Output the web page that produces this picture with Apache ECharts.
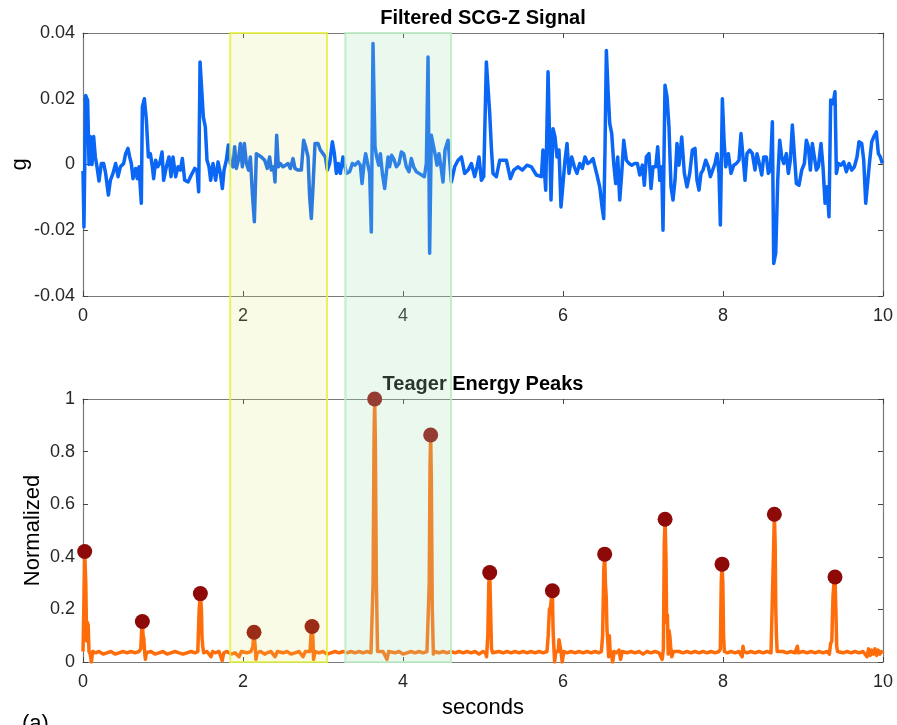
<!DOCTYPE html>
<html>
<head>
<meta charset="utf-8">
<script src="https://cdn.jsdelivr.net/npm/echarts@6/dist/echarts.min.js"></script>
<style>
html,body{margin:0;padding:0;background:#fff;}
#chart{width:897px;height:725px;}
</style>
</head>
<body>
<div id="chart"></div>
<script>
// ---------- DATA ----------
const topTitle = 'Filtered SCG-Z Signal';
const bottomTitle = 'Teager Energy Peaks';
const topYName = 'g';
const bottomYName = 'Normalized';
const xName = 'seconds';
const panelTag = '(a)';

const xRange = [0, 10];
const topYRange = [-0.04, 0.04];
const bottomYRange = [0, 1];

// highlighted windows (seconds)
const yellowSpan = [1.84, 3.05];
const greenSpan = [3.28, 4.6];

// filtered SCG-Z signal [seconds, g]
const scgSignal = [
[0.000,-0.002],[0.012,-0.019],[0.033,0.021],[0.058,0.0195],[0.075,0.0],[0.092,0.0085],[0.113,0.0],[0.133,0.0085],
[0.154,0.0023],[0.175,-0.0007],[0.200,-0.005],[0.229,0.0003],[0.258,0.0003],[0.283,-0.0027],[0.317,-0.0093],
[0.342,-0.0048],[0.375,-0.0027],[0.408,0.0003],[0.438,-0.0037],[0.467,-0.0007],[0.508,0.0003],[0.533,0.0033],
[0.562,0.0049],[0.583,0.0023],[0.604,0.0003],[0.625,-0.0043],[0.658,-0.0012],[0.679,-0.0043],[0.700,-0.0007],
[0.729,-0.0118],[0.742,0.0175],[0.767,0.020],[0.792,0.0135],[0.817,0.0023],[0.842,0.0033],[0.867,-0.0007],
[0.883,-0.0043],[0.908,0.0013],[0.933,-0.0007],[0.958,0.0003],[0.988,0.0038],[1.008,-0.0048],[1.042,-0.0007],
[1.075,0.0023],[1.100,-0.0037],[1.125,0.0023],[1.158,-0.0037],[1.188,-0.0007],[1.217,-0.0017],[1.242,0.0018],
[1.271,-0.0048],[1.313,-0.0053],[1.354,-0.0032],[1.396,-0.0012],[1.425,-0.0017],[1.446,-0.0083],[1.463,0.0312],
[1.483,0.0307],[1.504,0.0145],[1.529,0.0114],[1.550,0.0013],[1.575,-0.0007],[1.596,-0.0048],[1.625,0.0003],
[1.658,-0.0048],[1.688,0.0008],[1.717,-0.0027],[1.742,-0.0073],[1.763,-0.0017],[1.792,0.0013],[1.817,0.0059],
[1.842,0.0003],[1.875,-0.0007],[1.896,0.0054],[1.917,-0.0012],[1.942,0.0013],[1.967,0.0064],[1.992,-0.0007],
[2.017,0.0064],[2.042,0.0003],[2.071,-0.0017],[2.092,0.0023],[2.117,-0.0088],[2.142,-0.0174],[2.167,0.0033],
[2.192,0.0038],[2.229,0.0023],[2.271,0.0013],[2.304,-0.0012],[2.333,0.0023],[2.354,-0.0017],[2.383,-0.0007],
[2.400,-0.0053],[2.421,0.0089],[2.442,-0.0007],[2.467,0.0003],[2.500,-0.0007],[2.533,-0.0002],[2.563,0.0003],
[2.592,-0.0012],[2.625,0.0018],[2.650,-0.0012],[2.688,-0.0017],[2.729,-0.0017],[2.758,0.0074],[2.783,0.0054],
[2.813,0.0023],[2.833,-0.0098],[2.854,-0.0164],[2.875,-0.0068],[2.900,0.0064],[2.938,0.0064],[2.967,0.0044],
[3.000,0.0033],[3.029,0.0023],[3.054,-0.0017],[3.083,0.0003],[3.117,0.0069],[3.142,0.0033],[3.167,-0.0027],
[3.192,0.0003],[3.217,-0.0027],[3.250,0.0023],[3.292,-0.0027],[3.333,-0.0022],[3.367,0.0003],[3.400,-0.0002],
[3.438,0.0008],[3.467,-0.0002],[3.488,-0.0058],[3.513,0.0003],[3.533,0.0033],[3.558,0.0028],[3.583,-0.0027],
[3.604,-0.0205],[3.625,0.0368],[3.650,0.0054],[3.671,0.0023],[3.696,-0.0002],[3.717,0.0033],[3.742,-0.0027],
[3.771,-0.0073],[3.792,-0.0068],[3.813,0.0023],[3.833,-0.0007],[3.858,0.0028],[3.883,0.0018],[3.917,-0.0007],
[3.950,0.0003],[3.979,0.0038],[4.008,0.0033],[4.042,-0.0007],[4.075,-0.0022],[4.104,0.0018],[4.133,-0.0007],
[4.167,-0.0022],[4.200,-0.0027],[4.233,-0.0032],[4.267,-0.0037],[4.292,0.0003],[4.313,0.0327],[4.333,-0.027],
[4.354,0.0089],[4.375,0.0084],[4.400,0.0033],[4.425,-0.0002],[4.450,0.0033],[4.475,-0.0007],[4.500,-0.0053],
[4.525,0.0044],[4.563,0.0074],[4.605,-0.0053],[4.646,-0.0007],[4.688,0.0013],[4.730,0.0023],[4.771,-0.0027],
[4.813,-0.0017],[4.855,0.0003],[4.896,-0.0037],[4.925,-0.0007],[4.950,0.0023],[4.980,-0.0048],[5.009,-0.0037],
[5.042,0.0312],[5.063,0.0307],[5.084,0.0155],[5.105,0.0049],[5.125,-0.0027],[5.167,-0.0037],[5.209,0.0013],
[5.250,0.0013],[5.292,0.0013],[5.342,-0.0043],[5.384,-0.0017],[5.438,-0.0007],[5.492,-0.0017],[5.550,-0.0002],
[5.605,-0.0007],[5.667,-0.0032],[5.730,-0.0037],[5.750,0.0044],[5.784,-0.0078],[5.813,0.0282],[5.834,0.0277],
[5.850,-0.0108],[5.875,0.0109],[5.900,0.0084],[5.925,0.0023],[5.950,0.0044],[5.975,-0.0129],[6.000,-0.0134],
[6.025,0.0013],[6.050,0.0064],[6.075,-0.0027],[6.109,0.0023],[6.142,-0.0007],[6.175,-0.0027],[6.209,0.0003],
[6.242,-0.0012],[6.275,0.0023],[6.309,0.0003],[6.342,0.0008],[6.375,0.0018],[6.400,-0.0007],[6.425,-0.0032],
[6.459,-0.0068],[6.488,-0.0129],[6.509,-0.0164],[6.525,0.0044],[6.542,0.0347],[6.563,0.0226],[6.584,0.0125],
[6.609,0.0094],[6.634,0.0003],[6.659,-0.0058],[6.684,0.0023],[6.709,-0.0108],[6.734,-0.0027],[6.759,0.0074],
[6.792,0.0013],[6.825,0.0003],[6.859,-0.0002],[6.896,0.0003],[6.930,0.0003],[6.959,-0.0032],[6.992,-0.0002],
[7.017,-0.0063],[7.042,0.0023],[7.075,0.0033],[7.100,-0.0073],[7.125,-0.0007],[7.159,-0.0007],[7.184,0.0054],
[7.209,-0.0048],[7.234,-0.0007],[7.250,-0.020],[7.275,0.0241],[7.300,0.0206],[7.325,0.0114],[7.350,-0.0068],
[7.375,-0.0108],[7.400,-0.0048],[7.425,0.0064],[7.450,-0.0002],[7.484,0.0084],[7.517,-0.0027],[7.550,-0.0068],
[7.584,-0.0027],[7.617,0.0044],[7.650,0.0049],[7.675,-0.0048],[7.700,-0.0078],[7.725,-0.0027],[7.750,-0.0017],
[7.784,0.0013],[7.817,-0.0007],[7.842,-0.0037],[7.867,-0.0032],[7.900,0.0003],[7.925,0.0033],[7.950,-0.0027],
[7.967,-0.0184],[7.992,0.020],[8.013,0.0074],[8.034,-0.0007],[8.067,0.0033],[8.100,-0.0027],[8.134,-0.0002],
[8.167,0.0003],[8.200,0.0013],[8.225,0.0094],[8.250,0.0099],[8.275,-0.0048],[8.300,0.0033],[8.334,0.0044],
[8.367,0.0033],[8.400,-0.0017],[8.425,0.0033],[8.459,-0.0002],[8.484,-0.0032],[8.509,0.0023],[8.542,0.0023],
[8.567,-0.0027],[8.592,-0.0017],[8.617,0.013],[8.634,-0.0301],[8.659,-0.027],[8.684,-0.0048],[8.709,0.0074],
[8.734,0.0023],[8.759,0.0003],[8.792,0.0033],[8.817,-0.0027],[8.842,0.0013],[8.867,0.012],[8.892,0.0114],
[8.917,-0.0058],[8.950,-0.0063],[8.984,-0.0017],[9.017,0.0003],[9.042,0.0074],[9.067,0.0054],[9.092,-0.0017],
[9.117,0.0064],[9.142,0.0023],[9.167,-0.0017],[9.192,-0.0007],[9.225,0.0064],[9.250,-0.0007],[9.276,-0.0118],
[9.300,-0.0068],[9.325,-0.0159],[9.346,0.0196],[9.375,0.0185],[9.400,0.0221],[9.417,-0.0027],[9.442,0.0003],
[9.475,-0.0002],[9.509,0.0008],[9.542,-0.0022],[9.575,0.0003],[9.609,-0.0017],[9.642,-0.0007],[9.675,0.0023],
[9.700,0.0069],[9.734,0.0064],[9.759,0.0013],[9.784,-0.0118],[9.809,-0.0113],[9.834,0.0013],[9.859,0.0069],
[9.884,0.0084],[9.917,0.0099],[9.942,0.0033],[9.967,0.0023],[9.992,0.0003]
];

// Teager energy, normalized [seconds, value]
const teagerEnergy = [
[0.000,0.04],[0.010,0.2],[0.021,0.42],[0.035,0.3],[0.045,0.08],[0.055,0.15],[0.065,0.14],[0.075,0.04],[0.090,0.03],
[0.105,0.0],[0.120,0.04],[0.160,0.035],[0.200,0.04],[0.250,0.03],[0.300,0.035],[0.350,0.04],[0.400,0.03],[0.450,0.035],
[0.500,0.04],[0.550,0.035],[0.600,0.04],[0.650,0.035],[0.700,0.04],[0.722,0.05],[0.733,0.12],[0.742,0.154],[0.751,0.1],
[0.760,0.09],[0.770,0.04],[0.780,0.01],[0.792,0.035],[0.850,0.04],[0.900,0.03],[0.950,0.035],[1.000,0.04],[1.050,0.03],
[1.100,0.035],[1.150,0.04],[1.200,0.035],[1.250,0.03],[1.300,0.035],[1.350,0.04],[1.400,0.035],[1.435,0.04],[1.452,0.2],
[1.467,0.26],[1.480,0.2],[1.488,0.09],[1.497,0.06],[1.508,0.035],[1.550,0.04],[1.600,0.02],[1.620,0.04],[1.650,0.035],
[1.700,0.04],[1.740,0.005],[1.760,0.035],[1.800,0.04],[1.850,0.03],[1.900,0.035],[1.950,0.02],[1.980,0.04],[2.050,0.035],
[2.100,0.04],[2.123,0.06],[2.138,0.113],[2.152,0.06],[2.162,0.01],[2.177,0.035],[2.220,0.04],[2.270,0.03],[2.300,0.035],
[2.350,0.04],[2.400,0.02],[2.430,0.04],[2.500,0.035],[2.550,0.04],[2.600,0.03],[2.650,0.035],[2.700,0.04],[2.750,0.02],
[2.780,0.04],[2.838,0.04],[2.850,0.1],[2.863,0.135],[2.874,0.09],[2.882,0.01],[2.900,0.04],[2.950,0.035],[3.000,0.04],
[3.050,0.03],[3.100,0.035],[3.150,0.04],[3.200,0.035],[3.250,0.04],[3.300,0.035],[3.350,0.04],[3.400,0.035],[3.450,0.04],
[3.500,0.035],[3.550,0.04],[3.600,0.035],[3.612,0.04],[3.626,0.3],[3.638,0.85],[3.646,1.0],[3.654,0.85],[3.667,0.3],
[3.682,0.04],[3.750,0.04],[3.800,0.01],[3.820,0.04],[3.900,0.035],[3.950,0.04],[4.000,0.03],[4.050,0.035],[4.100,0.04],
[4.150,0.035],[4.200,0.04],[4.250,0.035],[4.300,0.04],[4.316,0.04],[4.328,0.3],[4.338,0.75],[4.346,0.863],[4.354,0.7],
[4.366,0.2],[4.380,0.03],[4.395,0.04],[4.450,0.035],[4.500,0.04],[4.550,0.035],[4.600,0.04],[4.650,0.035],[4.700,0.04],
[4.750,0.035],[4.800,0.04],[4.850,0.035],[4.900,0.04],[4.950,0.03],[5.000,0.04],[5.030,0.035],[5.045,0.02],[5.060,0.1],
[5.073,0.3],[5.084,0.34],[5.095,0.2],[5.106,0.05],[5.120,0.035],[5.200,0.04],[5.250,0.035],[5.300,0.04],[5.350,0.035],
[5.400,0.04],[5.450,0.035],[5.500,0.04],[5.550,0.035],[5.600,0.04],[5.650,0.035],[5.700,0.04],[5.750,0.035],[5.800,0.04],
[5.815,0.1],[5.830,0.2],[5.845,0.21],[5.857,0.25],[5.867,0.271],[5.876,0.12],[5.885,0.06],[5.895,0.0],[5.910,0.04],
[5.940,0.04],[5.950,0.085],[5.965,0.085],[5.975,0.04],[5.990,0.0],[6.010,0.04],[6.050,0.035],[6.100,0.04],[6.150,0.035],
[6.200,0.04],[6.250,0.035],[6.300,0.04],[6.350,0.035],[6.400,0.04],[6.450,0.035],[6.480,0.04],[6.495,0.1],[6.510,0.35],
[6.521,0.41],[6.530,0.3],[6.540,0.25],[6.550,0.12],[6.560,0.08],[6.570,0.02],[6.580,0.1],[6.590,0.03],[6.600,0.04],
[6.620,0.0],[6.640,0.04],[6.670,0.035],[6.700,0.045],[6.720,0.01],[6.740,0.04],[6.800,0.035],[6.850,0.04],[6.900,0.035],
[6.950,0.04],[7.000,0.03],[7.050,0.04],[7.100,0.035],[7.150,0.04],[7.200,0.035],[7.240,0.01],[7.255,0.05],[7.266,0.45],
[7.276,0.543],[7.287,0.4],[7.295,0.15],[7.305,0.18],[7.315,0.03],[7.325,0.12],[7.335,0.1],[7.345,0.06],[7.360,0.02],
[7.380,0.04],[7.400,0.035],[7.450,0.04],[7.500,0.035],[7.550,0.04],[7.600,0.035],[7.650,0.04],[7.700,0.035],[7.750,0.04],
[7.800,0.035],[7.850,0.04],[7.900,0.035],[7.950,0.04],[7.967,0.05],[7.978,0.3],[7.988,0.372],[7.998,0.3],[8.007,0.1],
[8.017,0.04],[8.050,0.035],[8.100,0.04],[8.150,0.035],[8.200,0.04],[8.240,0.02],[8.250,0.06],[8.260,0.04],[8.300,0.035],
[8.350,0.04],[8.400,0.035],[8.450,0.04],[8.500,0.035],[8.550,0.04],[8.600,0.035],[8.618,0.04],[8.630,0.4],[8.642,0.562],
[8.652,0.45],[8.660,0.2],[8.668,0.1],[8.677,0.04],[8.700,0.035],[8.750,0.04],[8.800,0.035],[8.850,0.04],[8.900,0.035],
[8.930,0.06],[8.940,0.035],[9.000,0.04],[9.050,0.035],[9.100,0.04],[9.150,0.035],[9.200,0.04],[9.250,0.035],[9.300,0.04],
[9.330,0.03],[9.345,0.07],[9.360,0.08],[9.375,0.25],[9.387,0.3],[9.400,0.323],[9.411,0.2],[9.421,0.06],[9.432,0.04],
[9.500,0.035],[9.550,0.04],[9.600,0.035],[9.650,0.04],[9.700,0.035],[9.750,0.04],[9.800,0.02],[9.820,0.05],[9.840,0.025],
[9.860,0.045],[9.880,0.03],[9.900,0.05],[9.920,0.025],[9.940,0.045],[9.960,0.03],[9.980,0.04],[10.000,0.035]
];

// detected peaks
const peakTimes  = [0.021, 0.742, 1.467, 2.138, 2.863, 3.646, 4.346, 5.084, 5.867, 6.521, 7.276, 7.988, 8.642, 9.400];
const peakValues = [0.42, 0.154, 0.26, 0.113, 0.135, 1.0, 0.863, 0.34, 0.271, 0.41, 0.543, 0.372, 0.562, 0.323];

// ---------- CHART ----------
const FONT = '"Liberation Sans", Arial, Helvetica, sans-serif';
const AX = '#7a7a7a';
const chart = echarts.init(document.getElementById('chart'), null, {renderer: 'canvas'});

function fmt(v) { return String(Math.round(v * 1000) / 1000); }

function xAxisPair(gridIndex) {
  return [
    { type: 'value', gridIndex, position: 'bottom', min: xRange[0], max: xRange[1], interval: 2,
      axisLine: { show: true, onZero: false, lineStyle: { color: AX, width: 1.2 } },
      axisTick: { show: true, inside: true, length: 5, lineStyle: { color: '#444' } },
      axisLabel: { show: true, fontSize: 18, color: '#262626', fontFamily: FONT, margin: 11, formatter: fmt },
      splitLine: { show: false } },
    { type: 'value', gridIndex, position: 'top', min: xRange[0], max: xRange[1], interval: 2,
      axisLine: { show: true, onZero: false, lineStyle: { color: AX, width: 1.2 } },
      axisTick: { show: true, inside: true, length: 5, lineStyle: { color: '#444' } },
      axisLabel: { show: false }, splitLine: { show: false } }
  ];
}
function yAxisPair(gridIndex, range, interval) {
  return [
    { type: 'value', gridIndex, position: 'left', min: range[0], max: range[1], interval,
      axisLine: { show: true, onZero: false, lineStyle: { color: AX, width: 1.2 } },
      axisTick: { show: true, inside: true, length: 5, lineStyle: { color: '#444' } },
      axisLabel: { show: true, fontSize: 18, color: '#262626', fontFamily: FONT, margin: 8, formatter: fmt },
      splitLine: { show: false } },
    { type: 'value', gridIndex, position: 'right', min: range[0], max: range[1], interval,
      axisLine: { show: true, onZero: false, lineStyle: { color: AX, width: 1.2 } },
      axisTick: { show: true, inside: true, length: 5, lineStyle: { color: '#444' } },
      axisLabel: { show: false }, splitLine: { show: false } }
  ];
}

chart.setOption({
  animation: false,
  backgroundColor: '#ffffff',
  grid: [
    { left: 83, right: 14, top: 33, height: 263 },
    { left: 83, right: 14, top: 399, height: 263 }
  ],
  xAxis: [...xAxisPair(0), ...xAxisPair(1)],
  yAxis: [...yAxisPair(0, topYRange, 0.02), ...yAxisPair(1, bottomYRange, 0.2)],
  series: [
    { type: 'line', name: 'SCG-Z', xAxisIndex: 0, yAxisIndex: 0, data: scgSignal,
      showSymbol: false, symbol: 'none', lineStyle: { color: '#0a66f5', width: 3.5, join: 'round' }, z: 3 },
    { type: 'line', name: 'Teager', xAxisIndex: 2, yAxisIndex: 2, data: teagerEnergy,
      showSymbol: false, symbol: 'none', lineStyle: { color: '#ff6c0a', width: 3.5, join: 'round' }, z: 3 },
    { type: 'scatter', name: 'Peaks', xAxisIndex: 2, yAxisIndex: 2,
      data: peakTimes.map((t, i) => [t, peakValues[i]]),
      symbol: 'circle', symbolSize: 15, itemStyle: { color: '#8e0a08', opacity: 1 }, z: 4 }
  ]
});

// ---------- overlays positioned through the axes ----------
const px = v => chart.convertToPixel({ xAxisIndex: 0 }, v);
const yTop = chart.convertToPixel({ yAxisIndex: 0 }, topYRange[1]);
const yTopBottom = chart.convertToPixel({ yAxisIndex: 0 }, topYRange[0]);
const yBotTop = chart.convertToPixel({ yAxisIndex: 2 }, bottomYRange[1]);
const yBot = chart.convertToPixel({ yAxisIndex: 2 }, bottomYRange[0]);
const xMid = px((xRange[0] + xRange[1]) / 2);

function txt(text, x, y, size, weight, rot, align) {
  return { type: 'text', x, y, rotation: rot || 0, z: 50,
    style: { text, fill: '#000', fontSize: size, fontWeight: weight || 'normal', fontFamily: FONT,
      textAlign: align || 'center', textVerticalAlign: 'middle', align: align || 'center', verticalAlign: 'middle' } };
}
function band(span, fill, stroke) {
  const x1 = px(span[0]), x2 = px(span[1]);
  return { type: 'rect', z: 100, silent: true,
    shape: { x: x1, y: yTop, width: x2 - x1, height: yBot - yTop },
    style: { fill, stroke, lineWidth: 2 } };
}

chart.setOption({
  graphic: { elements: [
    txt(topTitle, xMid, yTop - 15, 20, 'bold'),
    txt(bottomTitle, xMid, yBotTop - 15, 20, 'bold'),
    txt(topYName, 20, (yTop + yTopBottom) / 2, 22, 'normal', Math.PI / 2),
    txt(bottomYName, 33, (yBotTop + yBot) / 2, 22, 'normal', Math.PI / 2),
    txt(xName, xMid, yBot + 46, 22),
    txt(panelTag, 22, 724, 22, 'normal', 0, 'left'),
    band(yellowSpan, 'rgba(222,229,102,0.16)', 'rgba(228,240,70,0.85)'),
    band(greenSpan, 'rgba(170,225,183,0.24)', 'rgba(190,236,196,0.9)')
  ] }
});
</script>
</body>
</html>
